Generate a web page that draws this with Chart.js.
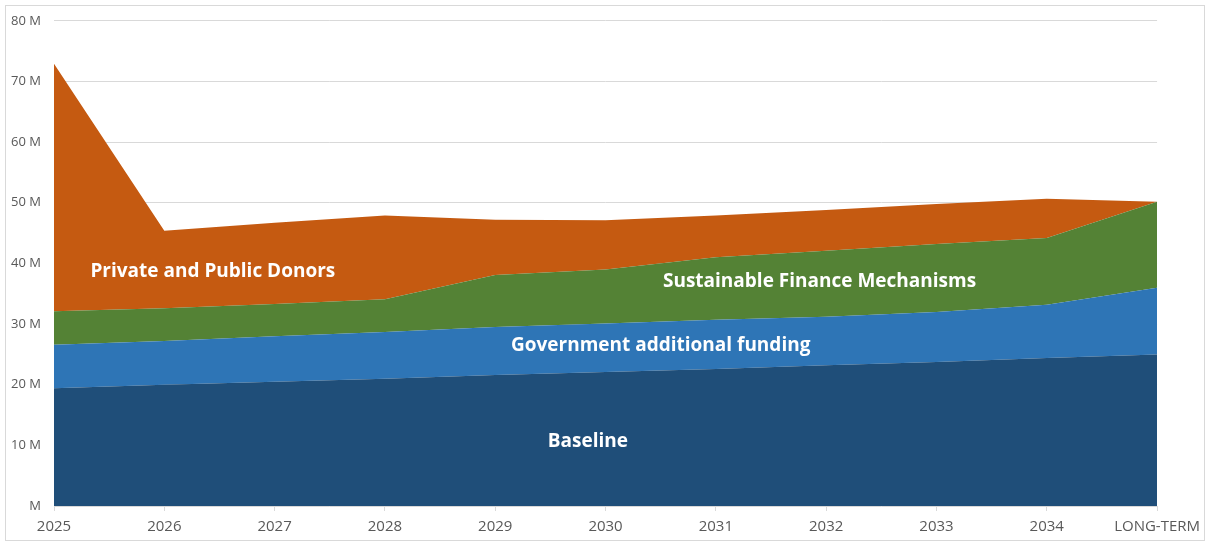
<!DOCTYPE html>
<html>
<head>
<meta charset="utf-8">
<script src="https://cdn.jsdelivr.net/npm/chart.js@4"></script>
<style>
html,body{margin:0;padding:0;background:#fff;}
#wrap{position:relative;width:1207px;height:543px;}
</style>
</head>
<body>
<div id="wrap"><canvas id="c" width="1207" height="543"></canvas></div>
<script>
const categories = ['2025','2026','2027','2028','2029','2030','2031','2032','2033','2034','LONG-TERM'];
const baseline   = [19.4, 20.0, 20.5, 21.0, 21.6, 22.1, 22.6, 23.2, 23.75, 24.4, 25.0];
const government = [7.2, 7.2, 7.5, 7.7, 7.9, 8.0, 8.1, 8.0, 8.25, 8.8, 11.0];
const sustainable= [5.5, 5.4, 5.3, 5.4, 8.6, 8.9, 10.3, 10.9, 11.2, 11.0, 14.15];
const donors     = [40.8, 12.8, 13.4, 13.8, 9.1, 8.1, 6.9, 6.7, 6.6, 6.45, 0];
const yTicks = [0,10,20,30,40,50,60,70,80];
const seriesNames = ['Baseline','Government additional funding','Sustainable Finance Mechanisms','Private and Public Donors'];

// in-chart labels: [text, category index position, value]
const areaLabels = [
  ['Private and Public Donors', 1.44, 38.7],
  ['Sustainable Finance Mechanisms', 6.94, 37.0],
  ['Government additional funding', 5.50, 26.5],
  ['Baseline', 4.84, 10.7]
];

const colors = ['#1F4E79','#2E75B6','#548235','#C55A11'];
const dataArrays = [baseline, government, sustainable, donors];

const labelPlugin = {
  id:'areaLabels',
  afterDatasetsDraw(chart){
    const ctx = chart.ctx, xs = chart.scales.x, ys = chart.scales.y;
    ctx.save();
    ctx.fillStyle = '#FFFFFF';
    ctx.font = 'bold 19px "Open Sans"';
    ctx.textAlign = 'center';
    ctx.textBaseline = 'middle';
    areaLabels.forEach(l => {
      ctx.fillText(l[0], xs.getPixelForValue(l[1]), ys.getPixelForValue(l[2]));
    });
    ctx.restore();
  }
};
const borderPlugin = {
  id:'outerBorder',
  afterDraw(chart){
    const ctx = chart.ctx;
    ctx.save();
    ctx.strokeStyle = '#D9D9D9';
    ctx.lineWidth = 1;
    ctx.strokeRect(5.5, 5.5, chart.width - 8, chart.height - 8);
    ctx.restore();
  }
};

new Chart(document.getElementById('c'), {
  type:'line',
  data:{
    labels: categories,
    datasets: dataArrays.map((d,i)=>({
      label: seriesNames[i],
      data: d,
      backgroundColor: colors[i],
      borderColor: colors[i],
      borderWidth: 0,
      pointRadius: 0,
      tension: 0,
      fill: i===0 ? 'origin' : '-1'
    }))
  },
  options:{
    responsive:false,
    animation:false,
    layout:{padding:{top:20,right:46,left:0,bottom:0}},
    plugins:{legend:{display:false},tooltip:{enabled:false}},
    scales:{
      x:{
        offset:false,
        border:{display:false},
        grid:{display:true,drawOnChartArea:false,drawTicks:true,tickLength:5,color:'#D9D9D9'},
        ticks:{color:'#595959',font:{family:'"Open Sans"',size:15},padding:7,maxRotation:0,autoSkip:false},
        afterFit(s){ s.height = 37; }
      },
      y:{
        stacked:true,
        min:0,max:80,
        border:{display:false},
        grid:{color:'#D9D9D9',drawTicks:false,lineWidth:1},
        afterBuildTicks(s){ s.ticks = yTicks.map(v=>({value:v})); },
        ticks:{color:'#595959',font:{family:'"Open Sans"',size:13},padding:13,
          callback:(v)=> v===0 ? 'M' : v + ' M'},
        afterFit(s){ s.width = 54; }
      }
    }
  },
  plugins:[labelPlugin, borderPlugin]
});
</script>
</body>
</html>
